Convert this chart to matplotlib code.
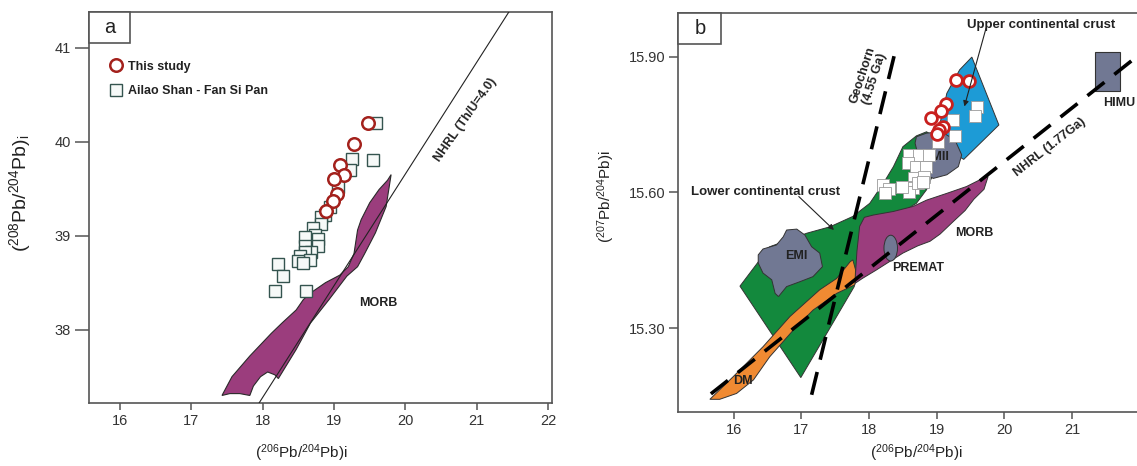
import matplotlib
matplotlib.use("Agg")
import matplotlib.pyplot as plt
from matplotlib.patches import Polygon, Ellipse, Rectangle

plt.rcParams['font.family'] = ['Liberation Sans', 'DejaVu Sans']
plt.rcParams['mathtext.fontset'] = 'custom'
plt.rcParams['mathtext.rm'] = 'Liberation Sans'
plt.rcParams['mathtext.it'] = 'Liberation Sans:italic'
plt.rcParams['mathtext.bf'] = 'Liberation Sans:bold'

# ---------------- panel a: 208Pb/204Pb vs 206Pb/204Pb ----------------
study_a_x = [19.47, 19.28, 19.09, 19.14, 19.00, 19.04, 18.99, 18.89]
study_a_y = [40.20, 39.98, 39.75, 39.65, 39.60, 39.44, 39.37, 39.26]

ailao_a_x = [19.59, 19.25, 19.54, 19.22, 19.05, 18.95, 18.88, 18.82, 18.82, 18.71,
             18.73, 18.59, 18.78, 18.78, 18.59, 18.68, 18.59, 18.52, 18.66, 18.50,
             18.57, 18.22, 18.29, 18.17, 18.61]
ailao_a_y = [40.20, 39.82, 39.81, 39.70, 39.52, 39.30, 39.22, 39.20, 39.12, 39.08,
             39.01, 38.99, 38.96, 38.89, 38.89, 38.83, 38.83, 38.78, 38.74, 38.73,
             38.71, 38.70, 38.57, 38.41, 38.41]

morb_a_x = [17.43, 17.57, 17.82, 18.12, 18.27, 18.47, 18.57, 18.67, 18.88, 19.08,
            19.20, 19.28, 19.33, 19.38, 19.50, 19.63, 19.75, 19.80,
            19.73, 19.58, 19.43, 19.33, 19.18, 18.93, 18.67, 18.47, 18.22,
            18.17, 18.07, 17.97, 17.87, 17.82, 17.68, 17.54]
morb_a_y = [37.30, 37.50, 37.72, 37.96, 38.07, 38.21, 38.32, 38.39, 38.50, 38.58,
            38.67, 38.81, 39.06, 39.17, 39.35, 39.49, 39.59, 39.65,
            39.31, 39.03, 38.81, 38.67, 38.57, 38.32, 38.07, 37.79, 37.48,
            37.52, 37.55, 37.50, 37.40, 37.30, 37.32, 37.32]

nhrl_a_x = [17.95, 21.45]
nhrl_a_y = [37.22, 41.38]

xticks_a = [16, 17, 18, 19, 20, 21, 22]
yticks_a = [38, 39, 40, 41]

# ---------------- panel b: 207Pb/204Pb vs 206Pb/204Pb ----------------
study_b_x = [19.29, 19.48, 19.14, 19.07, 18.92, 19.09, 19.04, 19.00]
study_b_y = [15.849, 15.847, 15.796, 15.779, 15.764, 15.745, 15.738, 15.729]

ailao_b_x = [19.59, 19.56, 19.24, 19.27, 19.02, 18.59, 18.74, 18.88, 18.57, 18.70,
             18.84, 18.67, 18.81, 18.54, 18.65, 18.59, 18.73, 18.21, 18.29, 18.24,
             18.48, 18.80]
ailao_b_y = [15.788, 15.769, 15.760, 15.725, 15.712, 15.683, 15.683, 15.683, 15.664, 15.657,
             15.657, 15.631, 15.635, 15.613, 15.609, 15.602, 15.620, 15.617, 15.608, 15.598,
             15.613, 15.624]

lcc_x = [16.09, 16.53, 16.88, 17.08, 17.42, 17.76, 18.01, 18.21, 18.36, 18.50, 18.70,
         18.85, 19.00, 19.10, 18.92, 18.85, 18.70, 18.46, 18.11, 17.92, 17.78, 16.99]
lcc_y = [15.393, 15.480, 15.499, 15.510, 15.524, 15.547, 15.576, 15.620, 15.657, 15.701, 15.725,
         15.734, 15.720, 15.660, 15.631, 15.606, 15.576, 15.554, 15.547, 15.540, 15.392, 15.191]

ucc_x = [19.52, 19.92, 19.40, 19.10, 19.05, 19.15, 19.34]
ucc_y = [15.899, 15.749, 15.673, 15.700, 15.753, 15.819, 15.871]

emi_x = [16.36, 16.43, 16.63, 16.73, 16.78, 16.93, 17.05, 17.15, 17.27, 17.31, 17.17,
         16.98, 16.78, 16.66, 16.61, 16.56, 16.43, 16.36]
emi_y = [15.462, 15.475, 15.484, 15.502, 15.517, 15.519, 15.506, 15.480, 15.466, 15.436, 15.414,
         15.403, 15.392, 15.370, 15.377, 15.407, 15.422, 15.444]

emii_x = [18.70, 18.85, 19.07, 19.27, 19.37, 19.32, 19.15, 18.95, 18.80, 18.73, 18.68]
emii_y = [15.723, 15.731, 15.734, 15.716, 15.683, 15.657, 15.639, 15.631, 15.642, 15.679, 15.709]

morb_b_x = [17.79, 17.82, 17.86, 17.93, 18.06, 18.36, 18.65, 18.85, 19.15, 19.44, 19.64, 19.76,
            19.70, 19.55, 19.42, 19.24, 19.05, 18.90, 18.72, 18.50, 18.30, 18.10, 17.90]
morb_b_y = [15.399, 15.470, 15.525, 15.545, 15.550, 15.558, 15.569, 15.583, 15.598, 15.613, 15.628, 15.635,
            15.607, 15.585, 15.560, 15.535, 15.508, 15.492, 15.482, 15.466, 15.447, 15.428, 15.410]

dm_x = [15.645, 15.99, 16.43, 16.83, 17.27, 17.52, 17.72, 17.76, 17.80, 17.79, 17.52, 17.17,
        16.88, 16.53, 16.29, 16.04, 15.79]
dm_y = [15.143, 15.193, 15.259, 15.326, 15.385, 15.410, 15.447, 15.451, 15.429, 15.396, 15.377, 15.340,
        15.296, 15.237, 15.186, 15.156, 15.143]

premat_center = (18.32, 15.477)
premat_size = (0.20, 0.057)

himu_x = [21.34, 21.71]
himu_y = [15.825, 15.911]

nhrl_b_x = [15.66, 22.40]
nhrl_b_y = [15.155, 15.952]

geochron_x = [17.15, 18.41]
geochron_y = [15.153, 15.926]

xticks_b = [16, 17, 18, 19, 20, 21]
yticks_b = [15.30, 15.60, 15.90]
ytick_labels_b = ['15.30', '15.60', '15.90']

# ---------------- styling ----------------
spine_col = '#555555'
tick_col = '#333333'
edge_col = '#333333'
c_green = '#13893d'
c_blue = '#1d9bd6'
c_gray = '#717893'
c_orange = '#f08a32'
c_morb = '#9b3d7d'

fig = plt.figure(figsize=(11.37, 4.66), dpi=100)
axa = fig.add_axes([0.0785, 0.1352, 0.4067, 0.8397])
axb = fig.add_axes([0.5967, 0.1159, 0.4174, 0.8568])


def style_axes(ax, ylen):
    for s in ax.spines.values():
        s.set_color(spine_col)
        s.set_linewidth(1.2)
    ax.tick_params(axis='both', direction='out', color=spine_col, width=1.1,
                   labelsize=10.5, labelcolor=tick_col, top=False, right=False)
    ax.tick_params(axis='x', length=5, pad=3)
    ax.tick_params(axis='y', length=ylen, pad=3)


def panel_tag(ax, letter, w, h):
    ax.add_patch(Rectangle((0, 1 - h), w, h, transform=ax.transAxes, facecolor='white',
                           edgecolor=spine_col, lw=1.2, zorder=10, clip_on=False))
    ax.text(w / 2, 1 - h / 2, letter, transform=ax.transAxes, ha='center', va='center',
            fontsize=14.5, color='#222222', zorder=11)


# ---- panel a ----
axa.set_xlim(15.57, 22.05)
axa.set_ylim(37.22, 41.383)
axa.add_patch(Polygon(list(zip(morb_a_x, morb_a_y)), closed=True, facecolor=c_morb,
                      edgecolor='#2a2a2a', lw=0.8, zorder=2))
axa.plot(nhrl_a_x, nhrl_a_y, color='#222222', lw=0.8, zorder=3)
sq_a, = axa.plot(ailao_a_x, ailao_a_y, ls='none', marker='s', ms=8, mfc='#f6f9f8',
                 mec='#34544f', mew=1.0, zorder=4, label='Ailao Shan - Fan Si Pan')
ci_a, = axa.plot(study_a_x, study_a_y, ls='none', marker='o', ms=9, mfc='white',
                 mec='#a3211c', mew=1.8, zorder=5, label='This study')
axa.set_xticks(xticks_a)
axa.set_yticks(yticks_a)
style_axes(axa, 10)
axa.text(20.85, 40.23, 'NHRL (Th/U=4.0)', rotation=55, ha='center', va='center',
         fontsize=9, fontweight='bold', color='#222222')
axa.text(19.62, 38.28, 'MORB', ha='center', va='center', fontsize=9,
         fontweight='bold', color='#222222')
leg = axa.legend(handles=[ci_a, sq_a], loc='upper left', bbox_to_anchor=(0.046, 0.875),
                 frameon=False, fontsize=9, handlelength=0.9, handletextpad=0.5,
                 labelspacing=1.0, borderpad=0, borderaxespad=0, numpoints=1)
for t in leg.get_texts():
    t.set_fontweight('bold')
    t.set_color('#222222')
panel_tag(axa, 'a', 0.0887, 0.079)

# ---- panel b ----
axb.set_xlim(15.18, 22.2)
axb.set_ylim(15.115, 15.997)
axb.add_patch(Polygon(list(zip(lcc_x, lcc_y)), closed=True, facecolor=c_green,
                      edgecolor=edge_col, lw=0.7, zorder=2))
axb.add_patch(Polygon(list(zip(emi_x, emi_y)), closed=True, facecolor=c_gray,
                      edgecolor=edge_col, lw=0.7, zorder=3))
axb.add_patch(Polygon(list(zip(morb_b_x, morb_b_y)), closed=True, facecolor=c_morb,
                      edgecolor=edge_col, lw=0.7, zorder=3))
axb.add_patch(Ellipse(premat_center, premat_size[0], premat_size[1], facecolor=c_gray,
                      edgecolor=edge_col, lw=0.7, zorder=4))
axb.add_patch(Polygon(list(zip(dm_x, dm_y)), closed=True, facecolor=c_orange,
                      edgecolor=edge_col, lw=0.7, zorder=4))
axb.add_patch(Polygon(list(zip(ucc_x, ucc_y)), closed=True, facecolor=c_blue,
                      edgecolor=edge_col, lw=0.7, zorder=3))
axb.add_patch(Polygon(list(zip(emii_x, emii_y)), closed=True, facecolor=c_gray,
                      edgecolor=edge_col, lw=0.7, zorder=4))
axb.add_patch(Rectangle((himu_x[0], himu_y[0]), himu_x[1] - himu_x[0], himu_y[1] - himu_y[0],
                        facecolor=c_gray, edgecolor=edge_col, lw=0.8, zorder=3))
axb.plot(nhrl_b_x, nhrl_b_y, color='black', lw=2.6, dashes=(6, 3.5), zorder=6,
         dash_capstyle='butt')
axb.plot(geochron_x, geochron_y, color='black', lw=2.6, dashes=(6.5, 3.5), zorder=6,
         dash_capstyle='butt')
axb.text(18.99, 15.679, 'EMII', ha='center', va='center', fontsize=9,
         fontweight='bold', color='#222222', zorder=5)
axb.plot(ailao_b_x, ailao_b_y, ls='none', marker='s', ms=8.5, mfc='white',
         mec='#9a9a9a', mew=0.6, zorder=7)
axb.plot(study_b_x, study_b_y, ls='none', marker='o', ms=8.5, mfc='white',
         mec='#c8201e', mew=2.0, zorder=8)
axb.set_xticks(xticks_b)
axb.set_yticks(yticks_b)
axb.set_yticklabels(ytick_labels_b)
style_axes(axb, 6.5)
axb.spines['right'].set_visible(False)

lab = dict(fontsize=9, fontweight='bold', color='#222222', zorder=9)
axb.text(19.55, 15.510, 'MORB', ha='center', va='center', **lab)
axb.text(18.73, 15.434, 'PREMAT', ha='center', va='center', **lab)
axb.text(16.92, 15.460, 'EMI', ha='center', va='center', **lab)
axb.text(16.14, 15.184, 'DM', ha='center', va='center', **lab)
axb.text(21.46, 15.798, 'HIMU', ha='left', va='center', **lab)
axb.text(20.68, 15.699, 'NHRL (1.77Ga)', rotation=38, ha='center', va='center', **lab)
axb.text(17.99, 15.856, 'Geochorn\n(4.55 Ga)', rotation=72, ha='center', va='center',
         linespacing=1.0, **lab)
axb.text(20.54, 15.970, 'Upper continental crust', ha='center', va='center',
         fontsize=9.5, fontweight='bold', color='#222222')
axb.text(16.47, 15.600, 'Lower continental crust', ha='center', va='center',
         fontsize=9.5, fontweight='bold', color='#222222', zorder=9)
arrow = dict(arrowstyle='-|>', lw=0.8, color='#222222', mutation_scale=8, shrinkA=0, shrinkB=0)
axb.annotate('', xy=(19.41, 15.790), xytext=(19.73, 15.963), arrowprops=arrow, zorder=9)
axb.annotate('', xy=(17.48, 15.517), xytext=(16.96, 15.591), arrowprops=arrow, zorder=9)
panel_tag(axb, 'b', 43 / 474.6, 31 / 399.5)

# ---- axis titles ----
W, H = 1137.0, 466.0
fig.text(301.7 / W, 1 - 453 / H, r'($^{206}$Pb/$^{204}$Pb)i', ha='center', va='center',
         fontsize=11, color='#222222')
fig.text(19.7 / W, 1 - 193 / H, r'($^{208}$Pb/$^{204}$Pb)$_{\mathrm{i}}$', ha='center',
         va='center', rotation=90, fontsize=14, color='#222222')
fig.text(916.6 / W, 1 - 453 / H, r'($^{206}$Pb/$^{204}$Pb)i', ha='center', va='center',
         fontsize=11, color='#222222')
fig.text(606 / W, 1 - 197 / H, r'($^{207}$Pb/$^{204}$Pb)i', ha='center', va='center',
         rotation=90, fontsize=11, color='#222222')

fig.savefig('out.png', dpi=100)
